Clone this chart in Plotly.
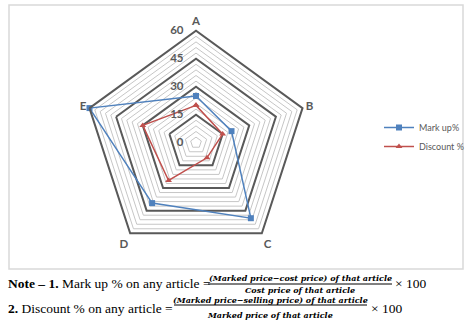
import plotly.graph_objects as go

W, H = 474, 327

categories = ["A", "B", "C", "D", "E"]
markup_pct = [25, 20, 50, 40, 60]
discount_pct = [20, 15, 10, 25, 30]
radial_ticks = [0, 15, 30, 45, 60]
minor_step = 3

BLUE = "#4F81BD"
RED = "#C0504D"
DARK = "#595959"
LIGHT = "#c6c6c6"


def px(x):
    return x / W


def py(y):
    return 1 - y / H


fig = go.Figure()

theta_closed = categories + [categories[0]]

# minor grid rings (light)
for v in range(minor_step, radial_ticks[-1], minor_step):
    if v in radial_ticks:
        continue
    fig.add_trace(go.Scatterpolar(
        r=[v] * len(theta_closed), theta=theta_closed, mode="lines",
        line=dict(color=LIGHT, width=1), showlegend=False, hoverinfo="skip"))

fig.add_trace(go.Scatterpolar(
    r=markup_pct + [markup_pct[0]], theta=theta_closed, mode="lines+markers",
    name="Mark up%", line=dict(color=BLUE, width=1.5),
    marker=dict(symbol="square", size=6, color=BLUE)))
fig.add_trace(go.Scatterpolar(
    r=discount_pct + [discount_pct[0]], theta=theta_closed, mode="lines+markers",
    name="Discount %", line=dict(color=RED, width=1.5),
    marker=dict(symbol="triangle-up", size=6, color=RED)))

cx, cy, R = 196, 142.7, 112
fig.update_layout(
    width=W, height=H,
    margin=dict(l=0, r=0, t=0, b=0),
    paper_bgcolor="white",
    plot_bgcolor="white",
    font=dict(family="Lato", color=DARK),
    polar=dict(
        domain=dict(x=[px(cx - R), px(cx + R)], y=[py(cy + R), py(cy - R)]),
        bgcolor="white",
        gridshape="linear",
        angularaxis=dict(
            direction="clockwise", rotation=90, categoryorder="array",
            categoryarray=categories, showgrid=False, showline=True,
            linecolor=DARK, linewidth=2, ticks="",
            tickfont=dict(family="Lato", size=11.5, color=DARK, weight="bold")),
        radialaxis=dict(
            range=[0, radial_ticks[-1]], tickvals=radial_ticks, angle=90,
            side="counterclockwise", tickangle=90, showline=False,
            ticks="outside", ticklen=8, tickcolor="rgba(0,0,0,0)",
            gridcolor=DARK, gridwidth=2,
            tickfont=dict(family="Lato", size=11.5, color=DARK, weight="bold")),
    ),
    legend=dict(x=px(379), y=py(113), xanchor="left", yanchor="top",
                font=dict(family="Lato", size=9, color=DARK),
                bgcolor="rgba(0,0,0,0)"),
    showlegend=True,
)

# chart area border
fig.add_shape(type="rect", xref="paper", yref="paper",
              x0=px(9), x1=px(463), y0=py(269), y1=py(5),
              line=dict(color="#d9d9d9", width=1.5))

SERIF = "Liberation Serif"
FRAC = "DejaVu Serif"


def ann(text, x, y, size, anchor="left", family=SERIF):
    fig.add_annotation(text=text, x=px(x), y=py(y), xref="paper", yref="paper",
                       xanchor=anchor, yanchor="middle", showarrow=False,
                       font=dict(family=family, size=size, color="black"))


# Note line 1
ann("<b>Note – 1.</b> Mark up % on any article =", 6, 283, 13.5)
ann("<b><i>(Marked price−cost price) of that article</i></b>", 300, 278, 8, "center", FRAC)
ann("<b><i>Cost price of that article</i></b>", 300, 290, 8, "center", FRAC)
fig.add_shape(type="line", xref="paper", yref="paper",
              x0=px(208), x1=px(392), y0=py(284), y1=py(284),
              line=dict(color="black", width=1))
ann("× 100", 393, 283, 13.5)

# Note line 2
ann("<b>2.</b> Discount % on any article =", 6, 308, 13.5)
ann("<b><i>(Marked price−selling price) of that article</i></b>", 270, 300, 8, "center", FRAC)
ann("<b><i>Marked price of that article</i></b>", 270, 315, 8, "center", FRAC)
fig.add_shape(type="line", xref="paper", yref="paper",
              x0=px(174), x1=px(367), y0=py(305), y1=py(305),
              line=dict(color="black", width=1))
ann("× 100", 369, 308, 13.5)

fig.write_html("out.html")
